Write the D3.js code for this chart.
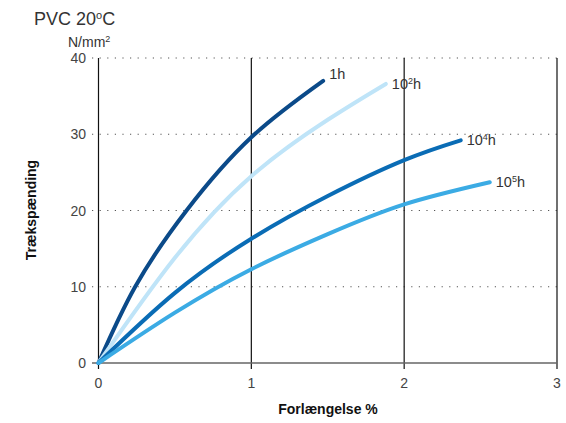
<!DOCTYPE html>
<html><head><meta charset="utf-8">
<script src="https://cdn.jsdelivr.net/npm/d3@7"></script>
<style>body{margin:0;background:#fff}svg{display:block;font-family:"Liberation Sans",Arial,Helvetica,sans-serif}</style>
</head><body><div id="chart"></div>
<script>
const xTicks = [0, 1, 2, 3];
const yTicks = [0, 10, 20, 30, 40];
const seriesNames = ["1h", "10²h", "10⁴h", "10⁵h"];
const s1h = [[0,0],[0.24,10],[0.576,20],[1,29.6],[1.47,37.0]];
const s1e2 = [[0,0],[0.5,13.8],[1,24.5],[1.5,31.9],[1.88,36.6]];
const s1e4 = [[0,0],[0.5,9.2],[1,16.3],[1.5,21.9],[2,26.6],[2.37,29.2]];
const s1e5 = [[0,0],[0.5,6.6],[1,12.3],[1.5,16.9],[2,20.8],[2.56,23.7]];
const colors = ["#0b4a89", "#bfe4f8", "#0a6cb5", "#3babe4"];

const W = 566, H = 423;
const svg = d3.select("#chart").append("svg").attr("width", W).attr("height", H);
const x = d3.scaleLinear().domain([0, 3]).range([98.5, 557]);
const y = d3.scaleLinear().domain([0, 40]).range([363, 58]);

// horizontal dotted grid
svg.append("g").selectAll("line").data(yTicks.filter(d => d > 0)).join("line")
  .attr("x1", 92).attr("x2", x(3)).attr("y1", d => y(d)).attr("y2", d => y(d))
  .attr("stroke", "#555").attr("stroke-width", 1.2).attr("stroke-dasharray", "1.2,6.4");

// vertical solid lines
svg.append("g").selectAll("line").data(xTicks).join("line")
  .attr("x1", d => x(d)).attr("x2", d => x(d)).attr("y1", y(40)).attr("y2", 369)
  .attr("stroke", "#111").attr("stroke-width", 1.2);

// zero axis line
svg.append("line").attr("x1", 92).attr("x2", x(3)).attr("y1", y(0)).attr("y2", y(0))
  .attr("stroke", "#666").attr("stroke-width", 1.5);

// y tick labels
svg.append("g").selectAll("text").data(yTicks).join("text")
  .attr("x", 86).attr("y", d => y(d)).attr("dy", "0.36em").attr("text-anchor", "end")
  .attr("font-size", 14).attr("fill", "#444").text(d => d);
// x tick labels
svg.append("g").selectAll("text").data(xTicks).join("text")
  .attr("x", d => x(d)).attr("y", 388).attr("text-anchor", "middle")
  .attr("font-size", 14).attr("fill", "#444").text(d => d);

// curves
const line = d3.line().x(d => x(d[0])).y(d => y(d[1])).curve(d3.curveNatural);
const all = [s1h, s1e2, s1e4, s1e5];
svg.append("g").selectAll("path").data(all).join("path")
  .attr("d", line).attr("fill", "none").attr("stroke", (d, i) => colors[i])
  .attr("stroke-width", 4).attr("stroke-linecap", "round");

// series labels
const labelParts = [["1h", null, ""], ["10", "2", "h"], ["10", "4", "h"], ["10", "5", "h"]];
all.forEach((s, i) => {
  const last = s[s.length - 1];
  const t = svg.append("text").attr("x", x(last[0]) + 6).attr("y", y(last[1]) + (i === 0 ? -2 : 5))
    .attr("font-size", 14.5).attr("fill", "#333");
  const p = labelParts[i];
  t.append("tspan").text(p[0]);
  if (p[1]) {
    t.append("tspan").attr("font-size", 9).attr("dy", -5).text(p[1]);
    t.append("tspan").attr("dy", 5).text(p[2]);
  }
});

// title
const title = svg.append("text").attr("x", 34).attr("y", 25).attr("font-size", 18).attr("fill", "#333");
title.append("tspan").text("PVC 20");
title.append("tspan").attr("font-size", 11).attr("dy", -6).text("o");
title.append("tspan").attr("dy", 6).text("C");

const unit = svg.append("text").attr("x", 68).attr("y", 47).attr("font-size", 14).attr("fill", "#333");
unit.append("tspan").text("N/mm");
unit.append("tspan").attr("font-size", 9).attr("dy", -5).text("2");

// axis titles
svg.append("text").attr("x", 328).attr("y", 414).attr("text-anchor", "middle")
  .attr("font-size", 14).attr("font-weight", "bold").attr("fill", "#111").text("Forlængelse %");
svg.append("text").attr("transform", "translate(36,210) rotate(-90)").attr("text-anchor", "middle")
  .attr("font-size", 14).attr("font-weight", "bold").attr("fill", "#111").text("Trækspænding");
</script></body></html>
